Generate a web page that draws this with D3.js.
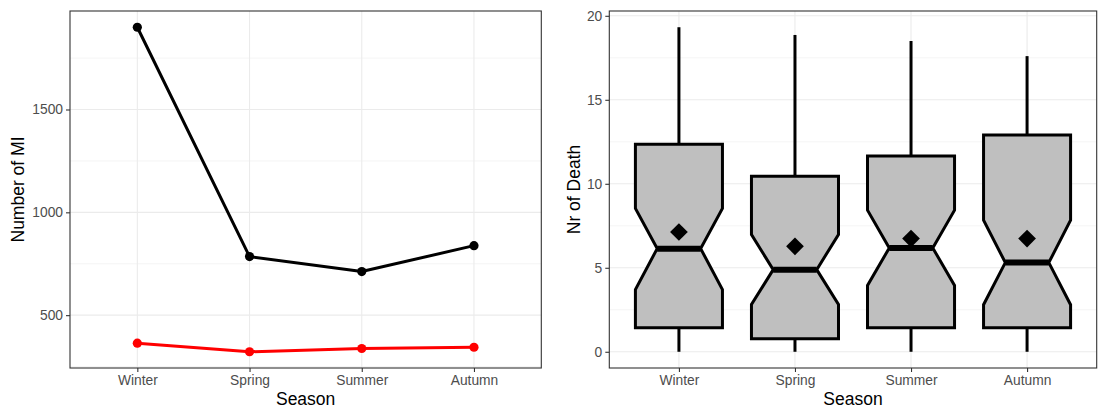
<!DOCTYPE html>
<html>
<head>
<meta charset="utf-8">
<script src="https://cdn.jsdelivr.net/npm/d3@7"></script>
<style>
  html, body { margin: 0; padding: 0; background: #fff; }
  svg { display: block; font-family: "Liberation Sans", Arial, sans-serif; }
</style>
</head>
<body>
<svg id="chart" width="1098" height="410"></svg>
<script>
// Seasons shared by both panels
const seasons = ["Winter", "Spring", "Summer", "Autumn"];

// Left panel: number of MI per season (two groups)
const miTotal = [1900, 785, 712, 838];
const miFatal = [364, 322, 338, 344];
const miTicks = [500, 1000, 1500];
const miMinor = [250, 750, 1250, 1750];

// Right panel: notched box summaries of deaths per season
const whiskerLow = [0, 0, 0, 0];
const q1 = [1.43, 0.78, 1.43, 1.43];
const notchLow = [3.70, 2.82, 3.95, 2.80];
const median = [6.14, 4.89, 6.18, 5.31];
const notchHigh = [8.53, 6.98, 8.43, 7.83];
const q3 = [12.36, 10.45, 11.65, 12.90];
const whiskerHigh = [19.32, 18.86, 18.50, 17.60];
const meanDeath = [7.13, 6.28, 6.74, 6.74];
const deathTicks = [0, 5, 10, 15, 20];
const deathMinor = [2.5, 7.5, 12.5, 17.5];

const svg = d3.select("#chart");
const TOP = 11, BOTTOM = 368;
const GRID = "#ebebeb", BORDER = "#333333", TICKTXT = "#4d4d4d";
const FONT = '"Liberation Sans", Arial, sans-serif';

function expand(lo, hi) {
  const pad = (hi - lo) * 0.05;
  return [lo - pad, hi + pad];
}

function panel(left, right, yDomain, majors, minors, yTitle, titleX) {
  const x = d3.scalePoint().domain(seasons).range([left, right]).padding(0.6);
  const y = d3.scaleLinear().domain(yDomain).range([BOTTOM, TOP]);
  const g = svg.append("g");

  // background grid
  g.selectAll(".minor").data(minors).join("line")
    .attr("x1", left).attr("x2", right)
    .attr("y1", d => y(d)).attr("y2", d => y(d))
    .attr("stroke", GRID).attr("stroke-width", 0.55);
  g.selectAll(".major").data(majors).join("line")
    .attr("x1", left).attr("x2", right)
    .attr("y1", d => y(d)).attr("y2", d => y(d))
    .attr("stroke", GRID).attr("stroke-width", 1.1);
  g.selectAll(".vmajor").data(seasons).join("line")
    .attr("x1", d => x(d)).attr("x2", d => x(d))
    .attr("y1", TOP).attr("y2", BOTTOM)
    .attr("stroke", GRID).attr("stroke-width", 1.1);

  // axes
  const yAxis = d3.axisLeft(y).tickValues(majors).tickFormat(d3.format("d"))
    .tickSize(4).tickPadding(3);
  const xAxis = d3.axisBottom(x).tickSize(4).tickPadding(3);
  const ya = svg.append("g").attr("transform", `translate(${left},0)`).call(yAxis);
  const xa = svg.append("g").attr("transform", `translate(0,${BOTTOM})`).call(xAxis);
  [ya, xa].forEach(a => {
    a.select(".domain").remove();
    a.selectAll(".tick line").attr("stroke", BORDER).attr("stroke-width", 1.1);
    a.selectAll(".tick text").attr("fill", TICKTXT).style("font-size", "13.8px")
      .style("font-family", FONT);
  });

  // axis titles
  svg.append("text")
    .attr("x", (left + right) / 2).attr("y", 405)
    .attr("text-anchor", "middle").style("font-size", "17.5px").attr("fill", "#000")
    .text("Season");
  svg.append("text")
    .attr("transform", `translate(${titleX},${(TOP + BOTTOM) / 2}) rotate(-90)`)
    .attr("text-anchor", "middle").style("font-size", "17.5px").attr("fill", "#000")
    .text(yTitle);

  return { x, y, g, frame: () => g.append("rect")
    .attr("x", left).attr("y", TOP).attr("width", right - left).attr("height", BOTTOM - TOP)
    .attr("fill", "none").attr("stroke", BORDER).attr("stroke-width", 1.1) };
}

// ---- Left panel: lines with points ----
const miAll = miTotal.concat(miFatal);
const L = panel(70, 541.3, expand(d3.min(miAll), d3.max(miAll)), miTicks, miMinor, "Number of MI", 24);
const line = d3.line().x((d, i) => L.x(seasons[i])).y(d => L.y(d));
[[miTotal, "#000000"], [miFatal, "#ff0000"]].forEach(([vals, col]) => {
  L.g.append("path").attr("d", line(vals)).attr("fill", "none")
    .attr("stroke", col).attr("stroke-width", 3).attr("stroke-linejoin", "round");
  L.g.selectAll(null).data(vals).join("circle")
    .attr("cx", (d, i) => L.x(seasons[i])).attr("cy", d => L.y(d))
    .attr("r", 4.6).attr("fill", col);
});
L.frame();

// ---- Right panel: notched boxplots ----
const R = panel(609.3, 1096.7, expand(d3.min(whiskerLow), d3.max(whiskerHigh)), deathTicks, deathMinor, "Nr of Death", 579.5);
const step = R.x.step();
const halfW = step * 0.75 / 2;
const halfN = halfW / 2;
seasons.forEach((s, i) => {
  const cx = R.x(s), y = R.y;
  // whiskers
  R.g.append("line").attr("x1", cx).attr("x2", cx)
    .attr("y1", y(q3[i])).attr("y2", y(whiskerHigh[i]))
    .attr("stroke", "#000").attr("stroke-width", 3);
  R.g.append("line").attr("x1", cx).attr("x2", cx)
    .attr("y1", y(q1[i])).attr("y2", y(whiskerLow[i]))
    .attr("stroke", "#000").attr("stroke-width", 3);
  // notched box outline
  const pts = [
    [cx - halfW, y(q3[i])], [cx + halfW, y(q3[i])],
    [cx + halfW, y(notchHigh[i])], [cx + halfN, y(median[i])],
    [cx + halfW, y(notchLow[i])], [cx + halfW, y(q1[i])],
    [cx - halfW, y(q1[i])], [cx - halfW, y(notchLow[i])],
    [cx - halfN, y(median[i])], [cx - halfW, y(notchHigh[i])]
  ];
  R.g.append("path").attr("d", "M" + pts.map(p => p.join(",")).join("L") + "Z")
    .attr("fill", "#bfbfbf").attr("stroke", "#000").attr("stroke-width", 3)
    .attr("stroke-linejoin", "miter");
  // median
  R.g.append("line").attr("x1", cx - halfN).attr("x2", cx + halfN)
    .attr("y1", y(median[i])).attr("y2", y(median[i]))
    .attr("stroke", "#000").attr("stroke-width", 6);
  // mean marker
  R.g.append("path")
    .attr("d", d3.symbol(d3.symbolDiamond2, 200)())
    .attr("transform", `translate(${cx},${y(meanDeath[i])})`)
    .attr("fill", "#000");
});
R.frame();
</script>
</body>
</html>
